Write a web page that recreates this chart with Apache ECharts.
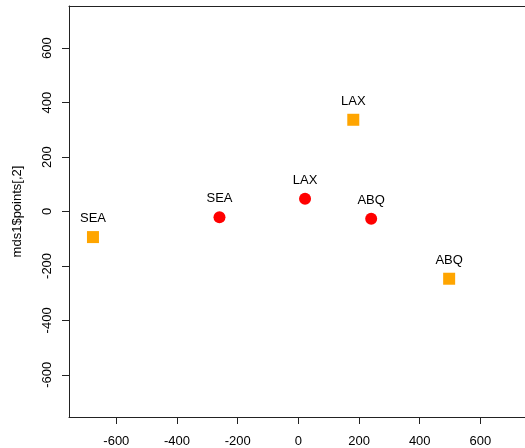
<!DOCTYPE html>
<html>
<head>
<meta charset="utf-8">
<script src="https://cdn.jsdelivr.net/npm/echarts@6/dist/echarts.min.js"></script>
<style>
html,body{margin:0;padding:0;background:#fff;}
#chart{width:525px;height:448px;}
</style>
</head>
<body>
<div id="chart"></div>
<script>
// Data
var cities = ["SEA", "LAX", "ABQ"];
var redX = [-260, 22, 240];
var redY = [-21, 47, -27];
var orangeX = [-677, 181, 497];
var orangeY = [-94, 337, -247];
var tickValues = [-600, -400, -200, 0, 200, 400, 600];
var yAxisTitle = "mds1$points[,2]";

function pts(xs, ys) {
  return xs.map(function (x, i) { return { name: cities[i], value: [x, ys[i]] }; });
}

var font = "'Liberation Sans', Arial, Helvetica, sans-serif";
var chart = echarts.init(document.getElementById('chart'), null, { renderer: 'canvas' });
var labelOpt = {
  show: true, position: 'top', distance: 6,
  formatter: '{b}', color: '#000', fontFamily: font, fontSize: 13
};
var lineStyle = { color: '#222', width: 1 };
chart.setOption({
  animation: false,
  backgroundColor: '#fff',
  grid: { left: 69, right: 0, top: 6, bottom: 31, show: false },
  xAxis: [{
    type: 'value', min: -756, max: 747,
    axisLine: { show: true, onZero: false, lineStyle: lineStyle },
    splitLine: { show: false },
    axisTick: { show: true, length: 7, lineStyle: lineStyle, customValues: tickValues },
    axisLabel: { color: '#000', fontFamily: font, fontSize: 13, margin: 18, customValues: tickValues }
  }, {
    type: 'value', position: 'top', min: -756, max: 747,
    axisLine: { show: true, onZero: false, lineStyle: lineStyle },
    splitLine: { show: false }, axisTick: { show: false }, axisLabel: { show: false }
  }],
  yAxis: {
    type: 'value', min: -755, max: 755,
    name: yAxisTitle, nameLocation: 'middle', nameGap: 45, nameRotate: 90,
    nameTextStyle: { color: '#000', fontFamily: font, fontSize: 13 },
    axisLine: { show: true, onZero: false, lineStyle: lineStyle },
    splitLine: { show: false },
    axisTick: { show: true, length: 7, lineStyle: lineStyle, customValues: tickValues },
    axisLabel: { color: '#000', fontFamily: font, fontSize: 13, margin: 15, rotate: 90, customValues: tickValues }
  },
  series: [
    {
      type: 'scatter', symbol: 'circle', symbolSize: 12, xAxisIndex: 0,
      itemStyle: { color: '#FF0000', opacity: 1 },
      label: labelOpt,
      data: pts(redX, redY)
    },
    {
      type: 'scatter', symbol: 'rect', symbolSize: 12, xAxisIndex: 0,
      itemStyle: { color: '#FFA500', opacity: 1 },
      label: labelOpt,
      data: pts(orangeX, orangeY)
    }
  ]
});
</script>
</body>
</html>
